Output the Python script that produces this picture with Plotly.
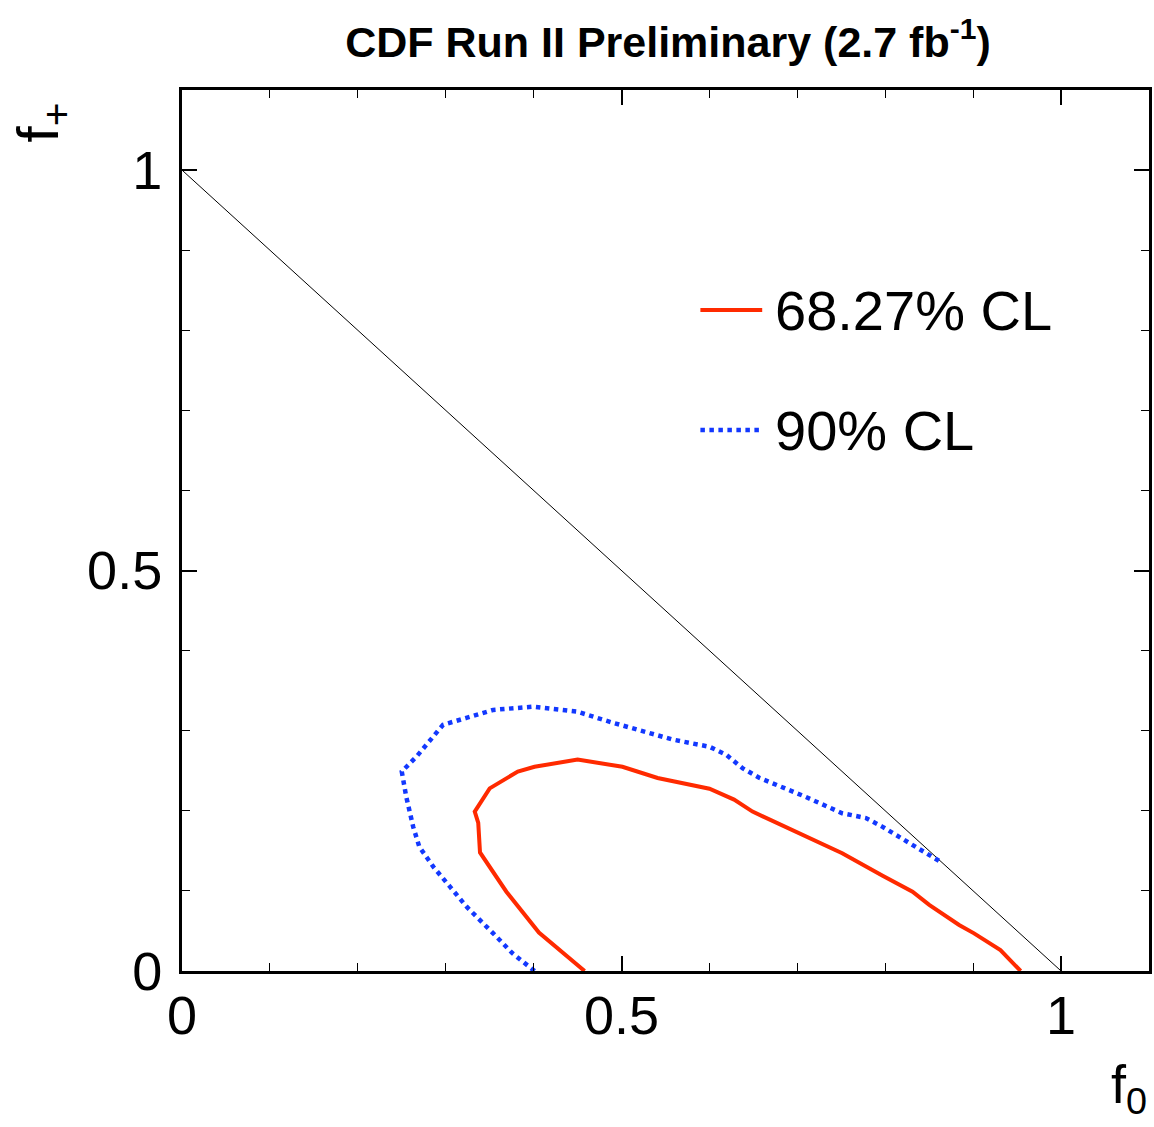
import plotly.graph_objects as go

# 68.27% CL contour (f0, f+)
red_f0 = [0.458, 0.406, 0.369, 0.339, 0.337, 0.333, 0.350, 0.382, 0.401, 0.450, 0.501, 0.541,
          0.600, 0.628, 0.649, 0.699, 0.751, 0.797, 0.831, 0.850, 0.884, 0.901, 0.931, 0.954]
red_fp = [0.000, 0.048, 0.099, 0.148, 0.185, 0.199, 0.228, 0.249, 0.255, 0.264, 0.255, 0.241,
          0.2275, 0.214, 0.199, 0.174, 0.147, 0.119, 0.099, 0.0825, 0.0575, 0.047, 0.026, 0.000]

# 90% CL contour
blue_f0 = [0.401, 0.376, 0.354, 0.324, 0.305, 0.286, 0.270, 0.263, 0.255, 0.250, 0.267, 0.297,
           0.3235, 0.354, 0.399, 0.449, 0.490, 0.558, 0.600, 0.619, 0.638, 0.657, 0.706, 0.751,
           0.778, 0.797, 0.827, 0.865]
blue_fp = [0.000, 0.022, 0.047, 0.080, 0.105, 0.130, 0.155, 0.180, 0.218, 0.249, 0.268, 0.3075,
           0.316, 0.326, 0.330, 0.324, 0.310, 0.289, 0.280, 0.270, 0.253, 0.241, 0.219, 0.197,
           0.191, 0.180, 0.160, 0.135]

# physical boundary f0 + f+ = 1
bound_f0 = [0.0, 1.0]
bound_fp = [1.0, 0.0]

tick_vals = [0, 0.5, 1]
tick_text = ["0", "0.5", "1"]

RED = "#ff2a00"
BLUE = "#1238ff"
FONT = "Liberation Sans, Arial, Helvetica, sans-serif"

fig = go.Figure()
fig.add_trace(go.Scatter(x=bound_f0, y=bound_fp, mode="lines",
                         line=dict(color="black", width=1), showlegend=False))
fig.add_trace(go.Scatter(x=blue_f0, y=blue_fp, mode="lines",
                         line=dict(color=BLUE, width=4.5, dash="dot"), showlegend=False))
fig.add_trace(go.Scatter(x=red_f0, y=red_fp, mode="lines",
                         line=dict(color=RED, width=4), showlegend=False))

axis_common = dict(
    showgrid=False, zeroline=False, showline=True, linecolor="black", linewidth=3,
    mirror="ticks", ticks="inside", ticklen=15, tickwidth=1.5, tickcolor="black",
    tickvals=tick_vals, ticktext=tick_text,
    tickfont=dict(family=FONT, size=54, color="black"),
    minor=dict(ticks="inside", ticklen=8, tickwidth=1, tickcolor="black", dtick=0.1),
)

fig.update_xaxes(range=[0, 1.1], ticklabelstandoff=-5, **axis_common)
fig.update_yaxes(range=[0, 1.1], ticklabelstandoff=6, **axis_common)

# legend drawn with shapes/annotations for exact placement
fig.add_shape(type="line", xref="paper", yref="paper", x0=(702-182)/970, x1=(764-182)/970,
              y0=(971-310)/881, y1=(971-310)/881, line=dict(color=RED, width=4))
fig.add_shape(type="line", xref="paper", yref="paper", x0=(702-182)/970, x1=(764-182)/970,
              y0=(971-430)/881, y1=(971-430)/881, line=dict(color=BLUE, width=4.5, dash="dot"))
fig.add_annotation(xref="paper", yref="paper", x=(775-182)/970, y=(971-310)/881,
                   text="68.27% CL", showarrow=False, xanchor="left", yanchor="middle",
                   font=dict(family=FONT, size=56, color="black"))
fig.add_annotation(xref="paper", yref="paper", x=(775-182)/970, y=(971-430)/881,
                   text="90% CL", showarrow=False, xanchor="left", yanchor="middle",
                   font=dict(family=FONT, size=56, color="black"))

# axis titles
fig.add_annotation(xref="paper", yref="paper", x=1.0, y=-(1088-971)/881,
                   text="f<sub>0</sub>", showarrow=False, xanchor="right", yanchor="middle",
                   font=dict(family=FONT, size=54, color="black"))
fig.add_annotation(xref="paper", yref="paper", x=-(182-42)/970, y=(971-122)/881,
                   text="f<sub>+</sub>", showarrow=False, textangle=-90,
                   xanchor="center", yanchor="middle",
                   font=dict(family=FONT, size=58, color="black"))

fig.update_layout(
    width=1154, height=1127,
    margin=dict(l=182, r=2, t=90, b=156),
    paper_bgcolor="white", plot_bgcolor="white",
    title=dict(text="<b>CDF Run II Preliminary (2.7 fb<sup>-1</sup>)</b>",
               x=668/1154, xanchor="center", y=1-42/1127, yanchor="middle",
               font=dict(family=FONT, size=43, color="black")),
    showlegend=False,
)

fig.write_html("out.html")
